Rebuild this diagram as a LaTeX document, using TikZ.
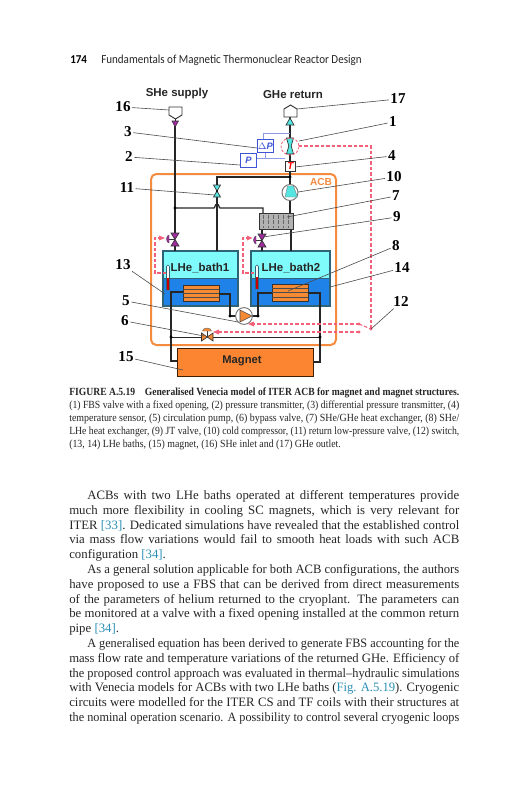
\documentclass[tikz,border=0pt]{standalone}
\usepackage{fontspec}
\setmainfont{Liberation Serif}
\setsansfont{Liberation Sans}
\newfontfamily\headfont{Carlito}
\usetikzlibrary{shapes.geometric}
\definecolor{acb}{HTML}{F58B3F}
\definecolor{cy}{HTML}{7FFBFB}
\definecolor{bl}{HTML}{1E82E8}
\definecolor{bdr}{HTML}{2F6478}
\definecolor{hxo}{HTML}{F58A35}
\definecolor{mag}{HTML}{FB8530}
\definecolor{vio}{HTML}{A02C9E}
\definecolor{rd}{HTML}{F2607A}
\definecolor{ib}{HTML}{3F55D8}
\definecolor{lb}{HTML}{8C9AE8}
\definecolor{lnk}{HTML}{2A8FB5}
\definecolor{tealv}{HTML}{55E5E0}
\tikzset{
 pipe/.style={draw=black!85,line width=0.9pt},
 leader/.style={draw=black!70,line width=0.45pt},
 num/.style={font=\fontsize{11.3}{12}\selectfont\bfseries,inner sep=1pt},
 lab/.style={font=\sffamily\bfseries\fontsize{8.6}{10}\selectfont,text=black!85,inner sep=0pt},
 rdash/.style={draw=rd,line width=0.8pt,dash pattern=on 2.6pt off 1.5pt},
 blbox/.style={draw=ib,fill=white,line width=0.7pt,inner sep=0pt,font=\sffamily\bfseries\itshape\fontsize{7}{8}\selectfont,text=ib},
 sig/.style={draw=lb,line width=0.7pt},
 dot/.style={circle,fill=black,inner sep=0pt,minimum size=2.4pt},
 rdot/.style={circle,fill=rd,inner sep=0pt,minimum size=2.4pt},
 rhead/.style={fill=rd,draw=none},
 bodyl/.style={anchor=base west,inner sep=0pt,font=\fontsize{9.6}{11}\selectfont,text=black!85},
 capl/.style={anchor=base west,inner sep=0pt,font=\fontsize{8.2}{9.5}\selectfont,text=black!85},
}
\newsavebox\linebox
\newcommand{\fitl}[2]{\sbox\linebox{#2}\ifdim\wd\linebox>#1\relax\resizebox{#1}{\height}{\usebox\linebox}\else\makebox[#1][s]{#2}\fi}
\newcommand{\jl}[4]{\node[bodyl] (#1) at (#2,#3) {\fitl{292.5pt}{#4}};}
\newcommand{\il}[4]{\node[bodyl] (#1) at (#2,#3) {\fitl{279pt}{#4}};}
\newcommand{\nl}[4]{\node[bodyl] (#1) at (#2,#3) {#4};}
\newcommand{\jlb}[4]{\node[capl] (#1) at (#2,#3) {\fitl{292.5pt}{#4}};}
\newcommand{\rf}[1]{\textcolor{lnk}{#1}}
% vertical bowtie: centre x,y half-width half-height fill
\newcommand{\vbow}[5]{\filldraw[fill=#5,draw=black!80,line width=0.5pt] (#1-#3,#2-#4) -- (#1+#3,#2-#4) -- (#1-#3,#2+#4) -- (#1+#3,#2+#4) -- cycle;}
\begin{document}
\begin{tikzpicture}[x=0.75pt,y=-0.75pt]
\useasboundingbox (0,0) rectangle (531,800);
\fill[white] (0,0) rectangle (531,800);
% header
\node[anchor=base west,inner sep=0pt,font=\headfont\bfseries\fontsize{9}{12}\selectfont] (pageno) at (70,63) {\scalebox{0.92}[1]{174}};
\node[anchor=base west,inner sep=0pt,font=\headfont\fontsize{9.2}{12}\selectfont,text=black!85] (runhead) at (101,63) {\scalebox{0.9}[1]{Fundamentals of Magnetic Thermonuclear Reactor Design}};
% ACB frame
\draw[acb,line width=1.5pt,rounded corners=4pt] (151,174) rectangle (336,345);
\node[font=\sffamily\bfseries\fontsize{7.6}{9}\selectfont,text=acb,inner sep=0pt] (acblabel) at (321,182) {ACB};
\node[lab] (supply) at (177,94) {SHe supply};
\node[lab] (return) at (293,95) {GHe return};
% coordinates
\coordinate (in) at (175,126);
\coordinate (j1) at (175,208);
\coordinate (h1) at (214,208);
\coordinate (h2) at (220,208);
\coordinate (h3) at (263,208);
\coordinate (hxt) at (263,213);
\coordinate (b1t) at (217,251);
\coordinate (b2t) at (291,251);
\coordinate (ret) at (290,177);
\coordinate (r1) at (217,177);
% baths
\node[draw=bdr,line width=0.8pt,fill=bl,minimum width=75*0.75pt,minimum height=55*0.75pt,anchor=north west,inner sep=0pt] (bath1) at (163,251) {};
\fill[cy] (163.5,251.5) rectangle (237.5,278);
\draw[bdr,line width=0.8pt] (163,251) rectangle (238,306);
\draw[bdr,line width=0.5pt] (163,278) -- (238,278);
\node[draw=bdr,line width=0.8pt,fill=bl,minimum width=79*0.75pt,minimum height=55*0.75pt,anchor=north west,inner sep=0pt] (bath2) at (251,251) {};
\fill[cy] (251.5,251.5) rectangle (329.5,278);
\draw[bdr,line width=0.8pt] (251,251) rectangle (330,306);
\draw[bdr,line width=0.5pt] (251,278) -- (330,278);
\node[lab] (lb1) at (200,268) {LHe\_bath1};
\node[lab] (lb2) at (291,268) {LHe\_bath2};
% thermometers
\draw[bdr,fill=white,line width=0.4pt] (166.5,290) -- (166.5,266.5) arc (180:360:1.5) -- (169.5,290) -- cycle;
\fill[red!80!black] (166.8,278) rectangle (169.2,290);
\draw[bdr,fill=white,line width=0.4pt] (255.5,289) -- (255.5,266.5) arc (180:360:1.5) -- (258.5,289) -- cycle;
\fill[red!80!black] (255.8,277) rectangle (258.2,289);
% pipes
\draw[pipe] (in) -- (175,233);
\draw[pipe] (175,246) -- (175,251);
\draw[pipe] (175,208) -- (h1) .. controls (215,208) and (215,204) .. (217,204) .. controls (219,204) and (219,208) .. (h2) -- (h3) -- (hxt);
\node[dot] (d1) at (j1) {};
\draw[pipe] (290,117) -- (290,161);
\draw[pipe] (290,171) -- (290,185);
\draw[pipe] (ret) -- (r1) -- (217,185);
\draw[pipe] (217,197) -- (b1t);
\node[dot] (d2) at (ret) {};
\draw[pipe] (290,200) -- (290,213);
\draw[pipe] (291,229) -- (b2t);
\draw[pipe] (262,229) -- (262,234);
\draw[pipe] (262,247) -- (262,251);
% exchangers
\node[draw=black!80,line width=0.7pt,fill=hxo,minimum width=27pt,minimum height=12pt,inner sep=0pt,anchor=north west] (hx1) at (183,285) {};
\foreach \y in {289,293,297} \draw[black!70,line width=0.4pt] (183,\y) -- (219,\y);
\node[draw=black!80,line width=0.7pt,fill=hxo,minimum width=27pt,minimum height=12.75pt,inner sep=0pt,anchor=north west] (hx2) at (272,284) {};
\foreach \y in {288,292.5,297} \draw[black!70,line width=0.4pt] (272,\y) -- (308,\y);
% magnet
\node[draw=black!75!orange,line width=0.9pt,fill=mag,minimum width=102pt,minimum height=21pt,inner sep=0pt,anchor=north west] (magnet) at (177,348) {};
\node[font=\sffamily\bfseries\fontsize{8.4}{10}\selectfont,text=black!85,inner sep=0pt] (magtxt) at (242,361) {Magnet};
% circuit pipes
\coordinate (jl) at (171,337);
\coordinate (jr) at (320,337);
\coordinate (pl) at (230,316);
\coordinate (pr) at (258,316);
\draw[pipe] (183,292) -- (171,292) -- (171,361) -- (177,361);
\draw[pipe] (219,294) -- (230,294) -- (pl) -- (236,316);
\draw[pipe] (252,316) -- (pr) -- (258,293) -- (272,293);
\draw[pipe] (308,293) -- (320,293) -- (320,362) -- (313,362);
\draw[pipe,line width=0.7pt] (jl) -- (202,337);
\draw[pipe,line width=0.7pt] (212,337) -- (jr);
\node[dot] (d3) at (jl) {};
\node[dot] (d4) at (jr) {};
\node[dot] (d5) at (pl) {};
\node[dot] (d6) at (pr) {};
% pump
\node[circle,draw=black!55,line width=0.7pt,fill=white,minimum size=12.6pt,inner sep=0pt] (pump) at (244,316) {};
\filldraw[fill=hxo,draw=black!70,line width=0.4pt] (240,310) -- (252,316) -- (240,322) -- cycle;
% bypass valve
\filldraw[fill=hxo,draw=black!80,line width=0.5pt] (201.5,333) -- (213,341) -- (213,333) -- (201.5,341) -- cycle;
\draw[black!80,line width=0.5pt] (207,337) -- (207,331);
\filldraw[fill=hxo,draw=black!60,line width=0.3pt] (202.5,331) arc (180:360:4.5 and 3) -- cycle;
% HX SHe/GHe
\node[draw=black!80,line width=0.8pt,fill=black!30,minimum width=25.5pt,minimum height=12pt,inner sep=0pt,anchor=north west] (hx3) at (259,213) {};
\foreach \x in {263,268,273,278,283,288} {\draw[black!60,line width=0.5pt,dash pattern=on 3pt off 1pt] (\x,215) -- (\x,228);}
% return line parts
\filldraw[fill=tealv,draw=black!80,line width=0.5pt] (286.5,138) -- (293.5,138) -- (291.2,146) -- (293.5,154) -- (286.5,154) -- (288.8,146) -- cycle;
\filldraw[fill=tealv,draw=black!80,line width=0.5pt] (290,118) -- (294,125) -- (286,125) -- cycle;
% outlet / inlet pentagons
\filldraw[fill=white,draw=black!80,line width=0.7pt] (284,117) -- (284,109) -- (290.5,105) -- (297,109) -- (297,117) -- cycle;
\coordinate (c17) at (297,109);
\filldraw[fill=white,draw=black!80,line width=0.7pt] (169,107) -- (182,107) -- (182,115) -- (175.5,119) -- (169,115) -- cycle;
\filldraw[fill=vio,draw=black!80,line width=0.4pt] (172,121) -- (178.5,121) -- (175.2,127) -- cycle;
\draw[pipe] (175.2,119) -- (175.2,121);
% T sensor
\node[draw=black!80,fill=white,line width=0.6pt,minimum width=7.5pt,minimum height=7.5pt,inner sep=0pt,anchor=north west,font=\sffamily\bfseries\itshape\fontsize{7.5}{8}\selectfont,text=red] (tsens) at (285,161) {T};
% DP, P
\draw[sig] (263,139) -- (263,133) -- (290,133);
\draw[sig] (265,152) -- (265,158) -- (285,158);
\draw[sig] (256,158) -- (265,158);
\node[blbox,minimum width=12pt,minimum height=9.75pt,anchor=north west] (dp) at (257,139) {$\Delta$P};
\node[blbox,minimum width=12pt,minimum height=10.5pt,anchor=north west] (pt) at (240,153) {P};
% compressor
\node[circle,draw=black!55,line width=0.7pt,fill=white,minimum size=12pt,inner sep=0pt] (comp) at (290,192.5) {};
\filldraw[fill=tealv,draw=black!50,line width=0.3pt] (287.5,186) -- (293.5,186) -- (297.5,197) -- (285,197) -- cycle;
% valve 11
\vbow{217}{191}{3.5}{6}{tealv}
\node[dot,minimum size=1.6pt] (d11) at (217,191) {};
% valves bypass, JT
\vbow{175}{239.5}{4}{6.5}{vio}
\vbow{262}{240.5}{4}{6.5}{vio}
\draw[black!80,line width=0.5pt] (168,239) -- (175,239);
\draw[black!80,line width=0.5pt] (255,240) -- (262,240);
\filldraw[fill=vio,draw=black!70,line width=0.3pt] (169,243) arc (90:270:2.5 and 4) -- cycle;
\filldraw[fill=vio,draw=black!70,line width=0.3pt] (256,244) arc (90:270:2.5 and 4) -- cycle;
% red signals
\coordinate (s1) at (299,146);
\coordinate (s2) at (371,146);
\coordinate (sw) at (371,329);
\coordinate (sa) at (359,324);
\coordinate (sb) at (359,332);
\draw[rd,line width=0.6pt,dash pattern=on 2pt off 1.2pt] (290,146.5) ellipse (9 and 8.5);
\draw[rdash] (s1) -- (s2) -- (sw);
\draw[rdash] (sa) -- (sw);
\draw[rdash] (sa) -- (254,324);
\draw[rdash] (sb) -- (218,332);
\fill[rhead] (248,324) -- (254,321.5) -- (254,326.5) -- cycle;
\fill[rhead] (213,332) -- (219,329.5) -- (219,334.5) -- cycle;
\node[rdot] (r1d) at (sa) {};
\node[rdot] (r2d) at (sb) {};
\node[rdot] (r3d) at (sw) {};
\draw[rdash] (166,273) -- (155,273) -- (155,238) -- (161,238);
\fill[rhead] (165,238) -- (159,235.5) -- (159,240.5) -- cycle;
\draw[rdash] (254,273) -- (243,273) -- (243,238) -- (249,238);
\fill[rhead] (252.5,238) -- (247,235.5) -- (247,240.5) -- cycle;
% numbers
\node[num] (n16) at (123,107) {16};
\node[num] (n17) at (398,99) {17};
\node[num] (n3) at (128,132) {3};
\node[num] (n1) at (393,122) {1};
\node[num] (n2) at (129,157) {2};
\node[num] (n4) at (392,156) {4};
\node[num] (n11) at (127,188) {11};
\node[num] (n10) at (394,177) {10};
\node[num] (n7) at (396,196) {7};
\node[num] (n9) at (397,217) {9};
\node[num] (n8) at (396,246) {8};
\node[num] (n14) at (402,268) {14};
\node[num] (n13) at (123,265) {13};
\node[num] (n12) at (401,302) {12};
\node[num] (n5) at (126,301) {5};
\node[num] (n6) at (125,321) {6};
\node[num] (n15) at (126,357) {15};
% leader ends
\coordinate (e16) at (169,110);
\coordinate (e3) at (257,148);
\coordinate (e1) at (299,141);
\coordinate (e2) at (240,165);
\coordinate (e4) at (295,167);
\coordinate (e11) at (215,195);
\coordinate (e10) at (298,192);
\coordinate (e7) at (287,217);
\coordinate (e9) at (263,237);
\coordinate (e8) at (288,291);
\coordinate (e14) at (330,287);
\coordinate (e13) at (165,294);
\coordinate (e5) at (238,322);
\coordinate (e6) at (204,336);
\coordinate (e15) at (183,370);
\draw[leader] (n16) -- (e16);
\draw[leader] (n17) -- (c17);
\draw[leader] (n3) -- (e3);
\draw[leader] (n1) -- (e1);
\draw[leader] (n2) -- (e2);
\draw[leader] (n4) -- (e4);
\draw[leader] (n11) -- (e11);
\draw[leader] (n10) -- (e10);
\draw[leader] (n7) -- (e7);
\draw[leader] (n9) -- (e9);
\draw[leader] (n8) -- (e8);
\draw[leader] (n14) -- (e14);
\draw[leader] (n13) -- (e13);
\draw[leader] (n12) -- (sw);
\draw[leader] (n5) -- (e5);
\draw[leader] (n6) -- (e6);
\draw[leader] (n15) -- (e15);
% caption
\jlb{c1}{69}{395.5}{\textbf{FIGURE A.5.19\hspace{1em}Generalised Venecia model of ITER ACB for magnet and magnet structures.}}
\jlb{c2}{69}{408.5}{(1) FBS valve with a fixed opening, (2) pressure transmitter, (3) differential pressure transmitter, (4)}
\jlb{c3}{69}{421.5}{temperature sensor, (5) circulation pump, (6) bypass valve, (7) SHe/GHe heat exchanger, (8) SHe/}
\jlb{c4}{69}{434.5}{LHe heat exchanger, (9) JT valve, (10) cold compressor, (11) return low-pressure valve, (12) switch,}
\node[capl] (c5) at (69,447) {\scalebox{0.9}[1]{(13, 14) LHe baths, (15) magnet, (16) SHe inlet and (17) GHe outlet.}};
% body
\il{b1}{87}{499.5}{ACBs with two LHe baths operated at different temperatures provide}
\jl{b2}{69}{514.3}{much more flexibility in cooling SC magnets, which is very relevant for}
\jl{b3}{69}{529.1}{ITER \rf{[33]}. Dedicated simulations have revealed that the established control}
\jl{b4}{69}{543.9}{via mass flow variations would fail to smooth heat loads with such ACB}
\nl{b5}{69}{558.7}{configuration \rf{[34]}.}
\il{b6}{87}{573.5}{As a general solution applicable for both ACB configurations, the authors}
\jl{b7}{69}{588.3}{have proposed to use a FBS that can be derived from direct measurements}
\jl{b8}{69}{603.1}{of the parameters of helium returned to the cryoplant. The parameters can}
\jl{b9}{69}{617.9}{be monitored at a valve with a fixed opening installed at the common return}
\nl{b10}{69}{632.7}{pipe \rf{[34]}.}
\il{b11}{87}{647.5}{A generalised equation has been derived to generate FBS accounting for the}
\jl{b12}{69}{662.3}{mass flow rate and temperature variations of the returned GHe. Efficiency of}
\jl{b13}{69}{677.1}{the proposed control approach was evaluated in thermal--hydraulic simulations}
\jl{b14}{69}{691.9}{with Venecia models for ACBs with two LHe baths (\rf{Fig. A.5.19}). Cryogenic}
\jl{b15}{69}{706.7}{circuits were modelled for the ITER CS and TF coils with their structures at}
\jl{b16}{69}{721.5}{the nominal operation scenario. A possibility to control several cryogenic loops}
\end{tikzpicture}
\end{document}
